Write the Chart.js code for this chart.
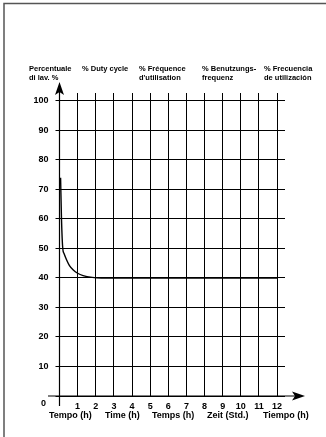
<!DOCTYPE html>
<html>
<head>
<meta charset="utf-8">
<script src="https://cdn.jsdelivr.net/npm/chart.js@4"></script>
<style>
  body { margin: 0; background: #fff; }
  canvas { display: block; }
</style>
</head>
<body>
<canvas id="dutyChart" width="326" height="437"></canvas>
<script>
// duty cycle curve
const hours = [0.06, 0.11, 0.18, 0.25, 0.4, 0.55, 0.76, 1.0, 1.3, 1.8, 2.3, 12];
const dutyCycle = [74, 60, 50, 48.3, 46, 44.2, 42.7, 41.6, 40.8, 40.2, 40, 40];

const xTicks = [0, 1, 2, 3, 4, 5, 6, 7, 8, 9, 10, 11, 12];
const yTicks = [0, 10, 20, 30, 40, 50, 60, 70, 80, 90, 100];

const headerLines = [
  ['Percentuale', 'di lav. %'],
  ['% Duty cycle', ''],
  ['% Fréquence', "d'utilisation"],
  ['% Benutzungs-', 'frequenz'],
  ['% Frecuencia', 'de utilización']
];
const headerX = [29, 82, 139, 202, 264];
const timeLabels = ['Tempo (h)', 'Time (h)', 'Temps (h)', 'Zeit (Std.)', 'Tiempo (h)'];
const timeLabelX = [49, 105, 152, 207, 263];

const FONT = '"Liberation Sans", Arial, sans-serif';

function arrowHead(ctx, tipX, tipY, dx, dy) {
  // dx,dy = unit direction of the arrow
  var len = 13, half = 4.5, notch = 3;
  var px = -dy, py = dx;
  ctx.beginPath();
  ctx.moveTo(tipX, tipY);
  ctx.lineTo(tipX - dx * len + px * half, tipY - dy * len + py * half);
  ctx.lineTo(tipX - dx * (len - notch), tipY - dy * (len - notch));
  ctx.lineTo(tipX - dx * len - px * half, tipY - dy * len - py * half);
  ctx.closePath();
  ctx.fill();
}

const decorations = {
  id: 'decorations',
  afterDraw(chart) {
    var ctx = chart.ctx;
    var xs = chart.scales.x, ys = chart.scales.y;
    var x0 = xs.getPixelForValue(0), y0 = ys.getPixelForValue(0);
    ctx.save();

    // frame
    ctx.strokeStyle = '#555';
    ctx.lineWidth = 1.5;
    ctx.beginPath();
    ctx.moveTo(4, 437);
    ctx.lineTo(4, 3.5);
    ctx.lineTo(326, 3.5);
    ctx.stroke();

    // axes with arrows
    ctx.strokeStyle = '#000';
    ctx.fillStyle = '#000';
    ctx.lineWidth = 1.2;
    ctx.beginPath();
    ctx.moveTo(48, y0);
    ctx.lineTo(300, y0);
    ctx.moveTo(x0, 406);
    ctx.lineTo(x0, 88);
    ctx.stroke();
    arrowHead(ctx, 305, y0, 1, 0);
    arrowHead(ctx, x0, 82, 0, -1);

    // texts
    ctx.fillStyle = '#000';
    ctx.textAlign = 'left';
    ctx.textBaseline = 'middle';
    ctx.font = 'bold 7.5px ' + FONT;
    headerLines.forEach(function (lines, i) {
      ctx.fillText(lines[0], headerX[i], 69);
      if (lines[1]) ctx.fillText(lines[1], headerX[i], 78);
    });
    ctx.font = 'bold 9px ' + FONT;
    timeLabels.forEach(function (t, i) {
      ctx.fillText(t, timeLabelX[i], 415.5);
    });
    ctx.fillText('0', 41, 404);
    ctx.restore();
  }
};

const canvas = document.getElementById('dutyChart');
const chart = new Chart(canvas, {
  type: 'scatter',
  data: {
    datasets: [{
      data: hours.map(function (h, i) { return { x: h, y: dutyCycle[i] }; }),
      showLine: true,
      borderColor: '#000',
      borderWidth: 1.4,
      pointRadius: 0,
      cubicInterpolationMode: 'monotone',
      clip: false
    }]
  },
  options: {
    responsive: false,
    animation: false,
    layout: { padding: { left: 0, top: 93, right: 41, bottom: 25 } },
    plugins: { legend: { display: false }, tooltip: { enabled: false } },
    scales: {
      x: {
        type: 'linear',
        min: 0,
        max: 12.44,
        afterFit: function (s) { s.height = 16; },
        afterBuildTicks: function (s) {
          s.ticks = xTicks.map(function (v) { return { value: v }; });
        },
        grid: { color: '#000', lineWidth: 1, drawTicks: false },
        border: { display: false },
        ticks: {
          autoSkip: false,
          maxRotation: 0,
          padding: 5,
          color: '#000',
          font: { family: FONT, size: 9, weight: 'bold' },
          callback: function (v) { return v === 0 ? '' : v; }
        }
      },
      y: {
        min: 0,
        max: 102.7,
        afterFit: function (s) { s.width = 59.5; },
        afterBuildTicks: function (s) {
          s.ticks = yTicks.map(function (v) { return { value: v }; });
        },
        grid: { color: '#000', lineWidth: 1, tickLength: 4 },
        border: { display: false },
        ticks: {
          autoSkip: false,
          padding: 7,
          color: '#000',
          font: { family: FONT, size: 9, weight: 'bold' },
          callback: function (v) { return v === 0 ? '' : v; }
        }
      }
    }
  },
  plugins: [decorations]
});
</script>
</body>
</html>
